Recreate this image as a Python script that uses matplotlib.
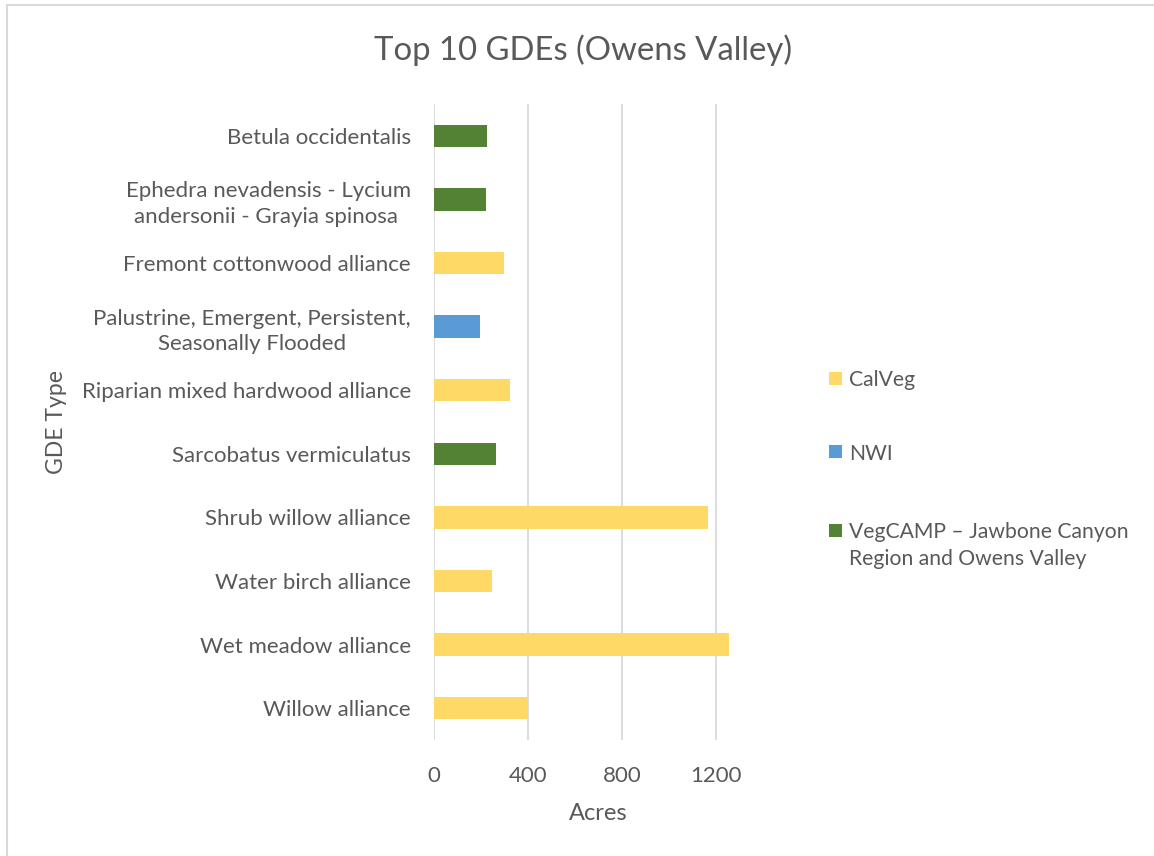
import matplotlib.pyplot as plt
from matplotlib.patches import Rectangle
import numpy as np

# data
CATEGORIES = [
    "Betula occidentalis",
    "Ephedra nevadensis - Lycium\nandersonii - Grayia spinosa ",
    "Fremont cottonwood alliance",
    "Palustrine, Emergent, Persistent,\nSeasonally Flooded",
    "Riparian mixed hardwood alliance",
    "Sarcobatus vermiculatus",
    "Shrub willow alliance",
    "Water birch alliance",
    "Wet meadow alliance",
    "Willow alliance",
]
ACRES = [224, 220, 298, 196, 325, 262, 1164, 245, 1255, 398]
SOURCE = ["veg", "veg", "cal", "nwi", "cal", "veg", "cal", "cal", "cal", "cal"]

SERIES = ["cal", "nwi", "veg"]
SERIES_NAMES = ["CalVeg", "NWI",
                "VegCAMP \u2013 Jawbone Canyon\nRegion and Owens Valley"]
SERIES_COLORS = ["#FFD966", "#5B9BD5", "#548235"]

X_TICKS = [0, 400, 800, 1200]

TEXT = "#595959"
GRID = "#D9D9D9"
W, H = 1154, 856

plt.rcParams['font.family'] = ['Lato', 'DejaVu Sans']

fig = plt.figure(figsize=(W / 100, H / 100), dpi=100)
ax = fig.add_axes([434 / W, 116 / H, 329 / W, 636 / H])

y_pos = np.arange(len(CATEGORIES))
for key, name, color in zip(SERIES, SERIES_NAMES, SERIES_COLORS):
    idx = [i for i, s in enumerate(SOURCE) if s == key]
    ax.barh(y_pos[idx], [ACRES[i] for i in idx], height=0.355,
            color=color, label=name, zorder=3)

ax.set_xlim(0, 1400)
ax.set_ylim(len(CATEGORIES) - 0.5, -0.5)
ax.set_xticks(X_TICKS)
ax.set_xticklabels([str(t) for t in X_TICKS])
ax.set_yticks(y_pos)
ax.set_yticklabels(CATEGORIES, ha="right", multialignment="center",
                   linespacing=1.35)
ax.tick_params(axis="both", length=0, labelsize=16, labelcolor=TEXT)
ax.tick_params(axis="y", pad=16.5)
ax.tick_params(axis="x", pad=19)

for t in X_TICKS:
    ax.axvline(t, color=GRID, lw=1.3, zorder=1)
for side in ["top", "right", "bottom", "left"]:
    ax.spines[side].set_visible(False)

ax.set_xlabel("Acres", fontsize=17, color=TEXT, labelpad=12)
ax.set_ylabel("GDE Type", fontsize=16.6, color=TEXT)
ax.yaxis.set_label_coords(-367 / 329, 0.5)

fig.suptitle("Top 10 GDEs (Owens Valley)", fontsize=23.7, color=TEXT,
             x=583 / W, y=1 - 50 / H, va="center")

# legend drawn by hand so the marker sits on the first line of a label
legend_rows = [378, 452, 530]
for name, color, row in zip(SERIES_NAMES, SERIES_COLORS, legend_rows):
    fig.patches.append(Rectangle((829 / W, 1 - (row + 6.5) / H), 13 / W, 13 / H,
                                 transform=fig.transFigure, facecolor=color,
                                 edgecolor="none"))
    fig.text(849 / W, 1 - (row - 8) / H, name, fontsize=15.2, color=TEXT,
             ha="left", va="top", linespacing=1.45)

# chart border (gray frame, cropped on right and bottom)
fig.patches.append(Rectangle((6.5 / W, -0.1), 1.2, 1 - 5.5 / H + 0.1,
                             transform=fig.transFigure, fill=False,
                             edgecolor=GRID, lw=1.5))

fig.savefig("out.png", dpi=100, facecolor="white")
